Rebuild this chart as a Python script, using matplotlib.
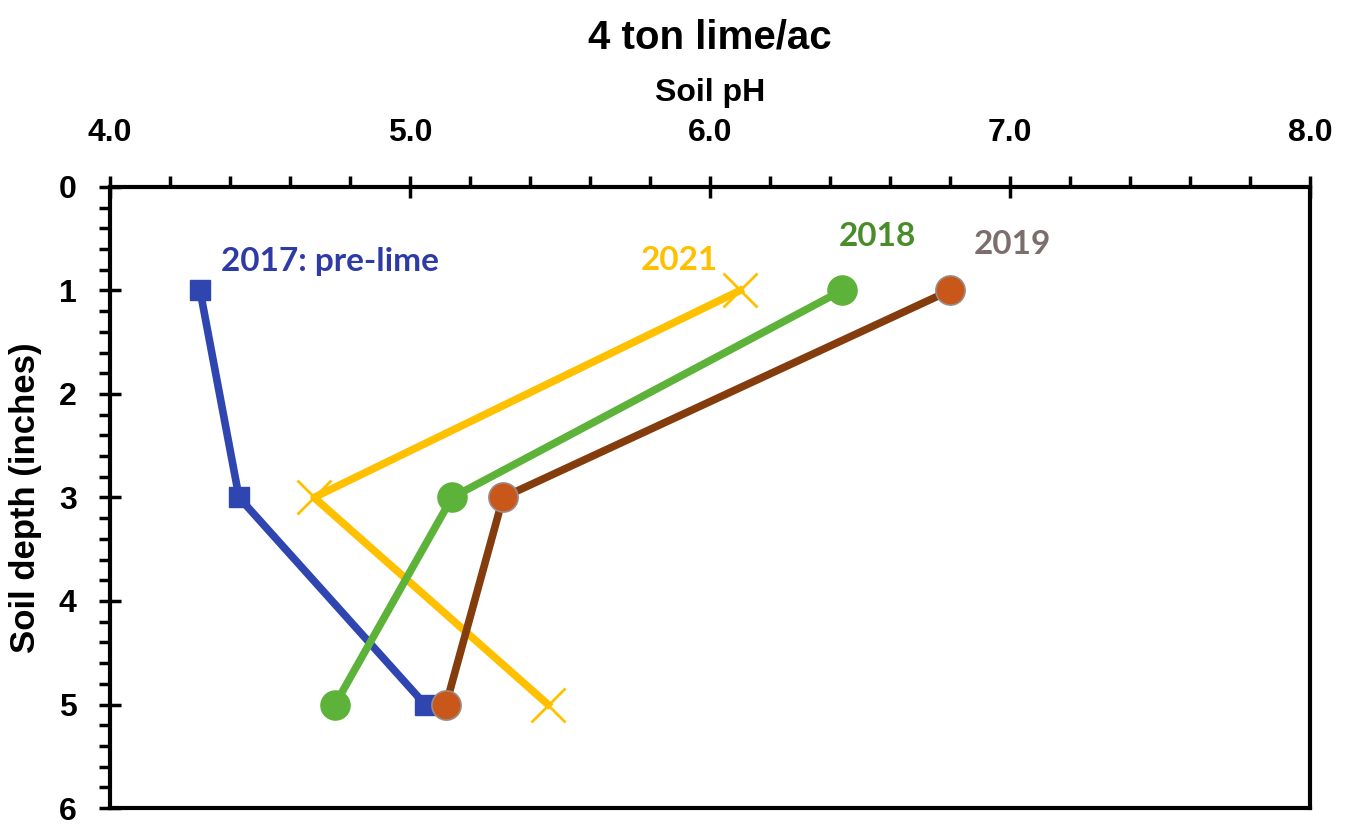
import matplotlib
matplotlib.use("Agg")
import matplotlib.pyplot as plt
from matplotlib.ticker import MultipleLocator

# soil depth (inches) and pH for each year
depth = [1, 3, 5]
ph_2017 = [4.30, 4.43, 5.05]
ph_2018 = [6.44, 5.14, 4.75]
ph_2019 = [6.80, 5.31, 5.12]
ph_2021 = [6.10, 4.68, 5.46]

labels = ["2017: pre-lime", "2018", "2019", "2021"]
label_pos = [(4.37, 0.72), (6.43, 0.48), (6.88, 0.56), (5.77, 0.71)]
label_colors = ["#2E3BA6", "#4A8C2A", "#7B6E6C", "#FFC000"]

plt.rcParams['font.family'] = ['Liberation Sans', 'DejaVu Sans']
plt.rcParams['font.weight'] = 'bold'

fig = plt.figure(figsize=(13.57, 8.24), dpi=100)
ax = fig.add_axes([0.0811, 0.0194, 0.8843, 0.7537])

ax.plot(ph_2017, depth, color="#2F45B0", lw=5.5, marker="s", ms=14, zorder=3)
ax.plot(ph_2021, depth, color="#FFC000", lw=5.5, marker="x", ms=24, mew=2, zorder=3)
ax.plot(ph_2018, depth, color="#5DB33A", lw=5.5, marker="o", ms=21, zorder=4)
ax.plot(ph_2019, depth, color="#843C0C", lw=5.5, marker="o", ms=21,
        mfc="#C9571A", mec="#9A8C88", mew=1.2, zorder=5)

for txt, (x, y), c in zip(labels, label_pos, label_colors):
    ax.text(x, y, txt, color=c, fontsize=24, fontweight='bold', family='Lato',
            ha='left', va='center')

ax.set_xlim(4.0, 8.0)
ax.set_ylim(6, 0)
ax.xaxis.tick_top()
ax.xaxis.set_label_position('top')
ax.xaxis.set_major_locator(MultipleLocator(1.0))
ax.xaxis.set_minor_locator(MultipleLocator(0.2))
ax.yaxis.set_major_locator(MultipleLocator(1))
ax.yaxis.set_minor_locator(MultipleLocator(0.2))
ax.set_xticklabels([f"{v:.1f}" for v in ax.get_xticks()])

ax.tick_params(which='major', direction='inout', length=16, width=2.5, labelsize=23, pad=20)
ax.tick_params(which='minor', direction='out', length=8, width=2.5)
ax.tick_params(axis='y', which='major', pad=16)

for s in ax.spines.values():
    s.set_linewidth(3)

ax.set_xlabel("Soil pH", fontsize=23, fontweight='bold', labelpad=12)
ax.set_ylabel("Soil depth (inches)", fontsize=25, fontweight='bold', labelpad=12)
fig.text(0.523, 0.955, "4 ton lime/ac", fontsize=29, fontweight='bold',
         ha='center', va='center')

fig.savefig("out.png", dpi=100)
